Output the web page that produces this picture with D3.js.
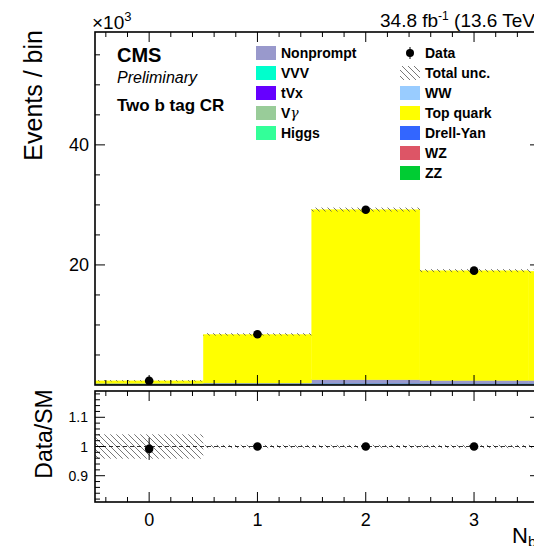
<!DOCTYPE html>
<html><head><meta charset="utf-8">
<script src="https://cdn.jsdelivr.net/npm/d3@7"></script>
<style>body{margin:0;background:#fff}svg{display:block;font-family:"Liberation Sans",Arial,sans-serif}</style>
</head><body><svg id="c" width="534" height="546"></svg>
<script>
// ---- data (thousands of events) ----
const bins = [0, 1, 2, 3, 4];
const processes = ["ZZ","WZ","Drell-Yan","WW","Higgs","Vγ","tVx","VVV","Nonprompt","Top quark"];
const colors = ["#00cc33","#dd5566","#3366ff","#99ccff","#33ff99","#99cc99","#6600ff","#00ffcc","#9999cc","#ffff00"];
const zz        = [0.12, 0.12, 0.12, 0.10, 0.10];
const wz        = [0.02, 0.02, 0.02, 0.02, 0.02];
const dy        = [0.05, 0.03, 0.02, 0.02, 0.02];
const ww        = [0.03, 0.02, 0.02, 0.02, 0.02];
const higgs     = [0.005,0.01, 0.02, 0.02, 0.02];
const vgamma    = [0.005,0.01, 0.02, 0.02, 0.02];
const tvx       = [0.005,0.02, 0.05, 0.05, 0.05];
const vvv       = [0.001,0.001,0.002,0.002,0.002];
const nonprompt = [0.03, 0.10, 0.60, 0.50, 0.50];
const topQuark  = [0.43, 8.10, 28.35, 18.30, 18.20];
const dataVals  = [0.69, 8.45, 29.2, 19.05, 18.9];
const totalUnc  = [0.03, 0.12, 0.25, 0.17, 0.17];
const ratioUnc  = [0.04, 0.004, 0.004, 0.004, 0.004];
const ratioVals = [0.992, 1.0, 1.0, 1.0, 1.0];
const ratioErr  = [0.038, 0.002, 0.002, 0.002, 0.002];
const xTickLabels = ["0","1","2","3","4"];
const yTickLabels = ["20","40"];
const rTickLabels = ["0.9","1","1.1"];
const legendLeft  = ["Nonprompt","VVV","tVx","Vγ","Higgs"];
const legendRight = ["Data","Total unc.","WW","Top quark","Drell-Yan","WZ","ZZ"];

const series = [zz, wz, dy, ww, higgs, vgamma, tvx, vvv, nonprompt, topQuark];

// ---- layout ----
const L = 95, R = 540, mT = 32, mB = 385, rT = 391, rB = 502;
const svg = d3.select("#c");
const x = d3.scaleLinear().domain([-0.5, 3.609]).range([L, R]);
const y = d3.scaleLinear().domain([0, 58.8]).range([mB, mT]);
const yr = d3.scaleLinear().domain([0.81, 1.19]).range([rB, rT]);

const defs = svg.append("defs");
const pat = defs.append("pattern").attr("id","hatch").attr("patternUnits","userSpaceOnUse")
  .attr("width",6).attr("height",6);
pat.append("path").attr("d","M-1,-1 L7,7 M-7,-1 L1,7 M5,-1 L13,7").attr("stroke","#555").attr("stroke-width",0.8);
defs.append("clipPath").attr("id","cm").append("rect").attr("x",L).attr("y",mT).attr("width",R-L).attr("height",mB-mT);
defs.append("clipPath").attr("id","cr").append("rect").attr("x",L).attr("y",rT).attr("width",R-L).attr("height",rB-rT);

// ---- main stack ----
const table = bins.map((b,i)=>{const o={bin:b}; processes.forEach((p,j)=>o[p]=series[j][i]); return o;});
const stack = d3.stack().keys(processes)(table);
const gm = svg.append("g").attr("clip-path","url(#cm)");
stack.forEach((layer,j)=>{
  gm.selectAll(null).data(layer).enter().append("rect")
    .attr("x",d=>x(d.data.bin-0.5)).attr("width",d=>x(d.data.bin+0.5)-x(d.data.bin-0.5))
    .attr("y",d=>y(d[1])).attr("height",d=>Math.max(0,y(d[0])-y(d[1])))
    .attr("fill",colors[j]).attr("stroke",colors[j]).attr("stroke-width",0.3);
});
const totals = bins.map((b,i)=>d3.sum(series,s=>s[i]));
gm.selectAll(null).data(bins).enter().append("rect")
  .attr("x",b=>x(b-0.5)).attr("width",b=>x(b+0.5)-x(b-0.5))
  .attr("y",(b,i)=>y(totals[i]+totalUnc[i])-0.5)
  .attr("height",(b,i)=>y(totals[i]-totalUnc[i])-y(totals[i]+totalUnc[i])+1)
  .attr("fill","url(#hatch)");
gm.selectAll(null).data(bins).enter().append("circle")
  .attr("cx",b=>x(b)).attr("cy",(b,i)=>y(dataVals[i])).attr("r",4.3).attr("fill","#000");

// ---- ratio ----
const gr = svg.append("g").attr("clip-path","url(#cr)");
gr.selectAll(null).data(bins).enter().append("rect")
  .attr("x",b=>x(b-0.5)).attr("width",b=>x(b+0.5)-x(b-0.5))
  .attr("y",(b,i)=>yr(1+ratioUnc[i])-0.5)
  .attr("height",(b,i)=>yr(1-ratioUnc[i])-yr(1+ratioUnc[i])+1)
  .attr("fill","url(#hatch)");
gr.append("line").attr("x1",L).attr("x2",R).attr("y1",yr(1)).attr("y2",yr(1))
  .attr("stroke","#000").attr("stroke-width",0.8).attr("stroke-dasharray","4,3");
gr.selectAll(null).data(bins).enter().append("line")
  .attr("x1",b=>x(b)).attr("x2",b=>x(b))
  .attr("y1",(b,i)=>yr(ratioVals[i]-ratioErr[i])).attr("y2",(b,i)=>yr(ratioVals[i]+ratioErr[i]))
  .attr("stroke","#000").attr("stroke-width",1);
gr.selectAll(null).data(bins).enter().append("circle")
  .attr("cx",b=>x(b)).attr("cy",(b,i)=>yr(ratioVals[i])).attr("r",4.3).attr("fill","#000");

// ---- axes & frames ----
function ticks(g, tp, bottom, yScale, yMajor, yMinor){
  const xMaj = d3.range(0,4,1), xMin = d3.range(-0.4,3.61,0.2).filter(v=>Math.abs(v-Math.round(v))>1e-6);
  xMaj.forEach(v=>{
    g.append("line").attr("x1",x(v)).attr("x2",x(v)).attr("y1",bottom).attr("y2",bottom-10).attr("stroke","#000");
    g.append("line").attr("x1",x(v)).attr("x2",x(v)).attr("y1",tp).attr("y2",tp+10).attr("stroke","#000");
  });
  xMin.forEach(v=>{
    g.append("line").attr("x1",x(v)).attr("x2",x(v)).attr("y1",bottom).attr("y2",bottom-5).attr("stroke","#000");
    g.append("line").attr("x1",x(v)).attr("x2",x(v)).attr("y1",tp).attr("y2",tp+5).attr("stroke","#000");
  });
  yMajor.forEach(v=>{
    g.append("line").attr("x1",L).attr("x2",L+10).attr("y1",yScale(v)).attr("y2",yScale(v)).attr("stroke","#000");
    g.append("line").attr("x1",R).attr("x2",R-10).attr("y1",yScale(v)).attr("y2",yScale(v)).attr("stroke","#000");
  });
  yMinor.forEach(v=>{
    g.append("line").attr("x1",L).attr("x2",L+5).attr("y1",yScale(v)).attr("y2",yScale(v)).attr("stroke","#000");
    g.append("line").attr("x1",R).attr("x2",R-5).attr("y1",yScale(v)).attr("y2",yScale(v)).attr("stroke","#000");
  });
  g.append("rect").attr("x",L).attr("y",tp).attr("width",R-L).attr("height",bottom-tp)
    .attr("fill","none").attr("stroke","#000").attr("stroke-width",1.6);
}
const ga = svg.append("g");
ticks(ga, mT, mB, y, [20,40], [5,10,15,25,30,35,45,50,55]);
ticks(ga, rT, rB, yr, [0.9,1.0,1.1], d3.range(0.82,1.19,0.02).filter(v=>![0.9,1.0,1.1].some(m=>Math.abs(m-v)<1e-6)));

// tick labels
[20,40].forEach((v,i)=>svg.append("text").attr("x",89).attr("y",y(v)).attr("dy","0.36em")
  .attr("text-anchor","end").attr("font-size",18).text(yTickLabels[i]));
[0.9,1.0,1.1].forEach((v,i)=>svg.append("text").attr("x",88).attr("y",yr(v)).attr("dy","0.36em")
  .attr("text-anchor","end").attr("font-size",14).text(rTickLabels[i]));
[0,1,2,3].forEach(v=>svg.append("text").attr("x",x(v)).attr("y",526)
  .attr("text-anchor","middle").attr("font-size",18).text(xTickLabels[v]));

// axis titles
svg.append("text").attr("transform","translate(42,30) rotate(-90)").attr("text-anchor","end")
  .attr("font-size",25).text("Events / bin");
svg.append("text").attr("transform","translate(52,434) rotate(-90)").attr("text-anchor","middle")
  .attr("font-size",23).text("Data/SM");
const xt = svg.append("text").attr("x",512).attr("y",543).attr("font-size",22);
xt.append("tspan").text("N");
xt.append("tspan").attr("font-size",15).attr("dy",4).text("b");

// header
const ex = svg.append("text").attr("x",92).attr("y",29).attr("font-size",19);
ex.append("tspan").text("×10");
ex.append("tspan").attr("font-size",13).attr("dy",-8).text("3");
const lumi = svg.append("text").attr("x",380).attr("y",27).attr("font-size",19);
lumi.append("tspan").text("34.8 fb");
lumi.append("tspan").attr("font-size",12).attr("dy",-7).text("-1");
lumi.append("tspan").attr("dy",7).text(" (13.6 TeV)");

svg.append("text").attr("x",117).attr("y",62).attr("font-size",20).attr("font-weight","bold").text("CMS");
svg.append("text").attr("x",117).attr("y",83).attr("font-size",16).attr("font-style","italic").text("Preliminary");
svg.append("text").attr("x",117).attr("y",111).attr("font-size",17).attr("font-weight","bold").text("Two b tag CR");

// legend
const rowY = i => 53 + 20*i;
function legendText(xp, yp, name){
  const t = svg.append("text").attr("x",xp).attr("y",yp).attr("font-size",14).attr("font-weight","bold");
  if(name.includes("γ")){
    t.append("tspan").text(name.replace("γ",""));
    t.append("tspan").attr("font-family","DejaVu Serif").attr("font-weight","normal").attr("font-style","italic").text("γ");
  } else t.text(name);
}
legendLeft.forEach((name,i)=>{
  const c = colors[processes.indexOf(name)];
  svg.append("rect").attr("x",256).attr("y",rowY(i)-7).attr("width",20).attr("height",14).attr("fill",c);
  legendText(281, rowY(i)+5, name);
});
legendRight.forEach((name,i)=>{
  const cy = rowY(i);
  if(name==="Data"){
    svg.append("line").attr("x1",410).attr("x2",410).attr("y1",cy-6).attr("y2",cy+6).attr("stroke","#000");
    svg.append("circle").attr("cx",410).attr("cy",cy).attr("r",4).attr("fill","#000");
  } else if(name==="Total unc."){
    svg.append("rect").attr("x",400).attr("y",cy-7).attr("width",20).attr("height",14).attr("fill","url(#hatch)");
  } else {
    svg.append("rect").attr("x",400).attr("y",cy-7).attr("width",20).attr("height",14)
      .attr("fill",colors[processes.indexOf(name)]);
  }
  legendText(425, cy+5, name);
});
</script></body></html>
